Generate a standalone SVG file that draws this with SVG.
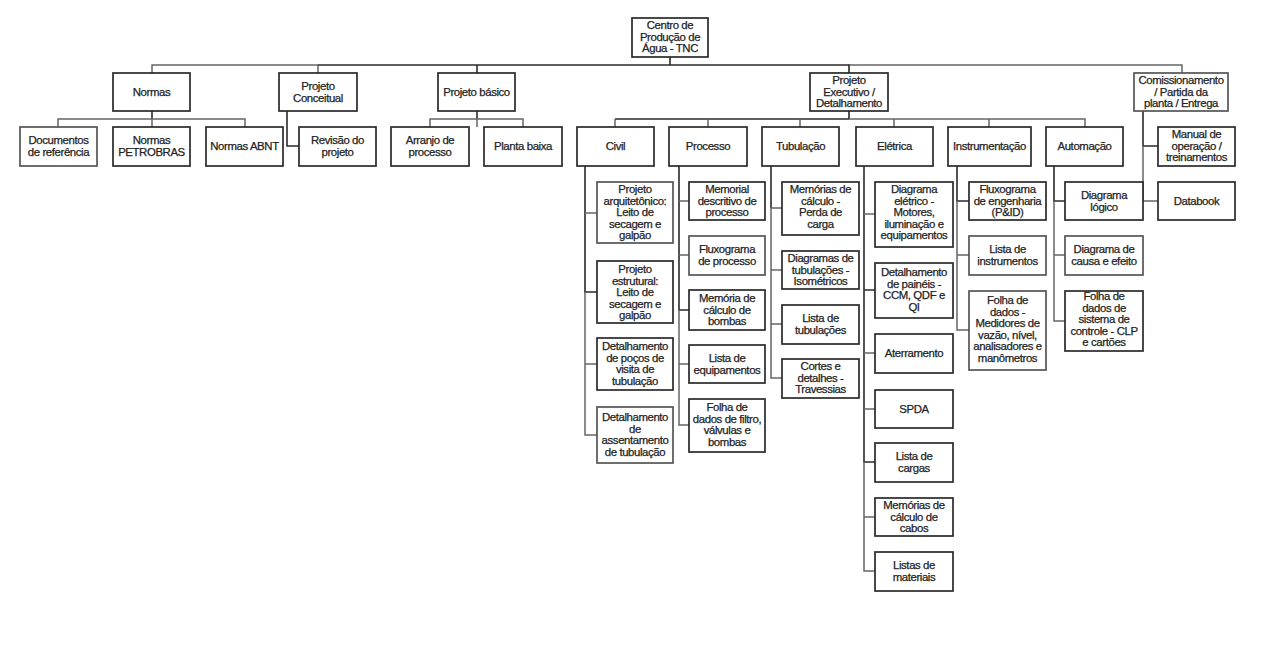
<svg xmlns="http://www.w3.org/2000/svg" width="1270" height="663" viewBox="0 0 1270 663">
<style>
.b{fill:#fff;stroke:#2a2a2a;stroke-width:1.7}
.g{fill:#fff;stroke:#555;stroke-width:1.7}
text{font-family:"Liberation Sans",Arial,sans-serif;font-size:11.4px;fill:#222;stroke:#222;stroke-width:0.25;text-anchor:middle;letter-spacing:-0.4px}
.c{fill:none;stroke:#666;stroke-width:1.5}
.d{fill:none;stroke:#2a2a2a;stroke-width:1.6}
</style>
<rect width="1270" height="663" fill="#fff"/>
<g id="connectors">
<path class="c" d="M152,73V65H318M849,65H1182V73M318,65V73"/>
<path class="d" d="M318,65H849V73M670,57V65M477,65V73"/>
<path class="d" d="M152,111V119"/>
<path class="c" d="M58,127V119H245V127M152,119V127"/>
<path class="d" d="M287,111V146H299"/>
<path class="d" d="M477,111V119"/>
<path class="c" d="M430,127V119H523V127M477,119V127"/>
<path class="d" d="M849,111V119M615,119H849"/>
<path class="c" d="M849,119H1085V127M615,119V127M708,119V127M800,119V127M894,119V127M989,119V127"/>
<path class="d" d="M1143,111V146H1158"/>
<path class="c" d="M1143,146V201H1158"/>
<path class="d" d="M585,166V292H597"/>
<path class="c" d="M585,292V435H597M585,213H597M585,364H597"/>
<path class="d" d="M679,166V310H689"/>
<path class="c" d="M679,310V425H689M679,201H689M679,255H689M679,364H689"/>
<path class="d" d="M771,166V208"/>
<path class="c" d="M771,208V378H782M771,208H782M771,270H782M771,324H782"/>
<path class="d" d="M864,166V462H875M864,290H875"/>
<path class="c" d="M864,462V571H875M864,214H875M864,353H875M864,409H875M864,517H875"/>
<path class="d" d="M957,166V201H969"/>
<path class="c" d="M957,201V330H969M957,255H969"/>
<path class="d" d="M1054,166V201H1065"/>
<path class="c" d="M1054,201V321H1065M1054,255H1065"/>
</g>
<g id="root"><rect class="b" x="632" y="18" width="76" height="39"/><text x="670" y="29"><tspan x="670">Centro de</tspan><tspan x="670" dy="11.5">Produção de</tspan><tspan x="670" dy="11.5">Água - TNC</tspan></text></g>
<g id="normas"><rect class="b" x="113" y="73" width="77" height="38"/><text x="151.5" y="96">Normas</text></g>
<g id="conceitual"><rect class="b" x="279" y="73" width="78" height="38"/><text x="318" y="90"><tspan x="318">Projeto</tspan><tspan x="318" dy="11.5">Conceitual</tspan></text></g>
<g id="basico"><rect class="b" x="438" y="73" width="77" height="38"/><text x="476.5" y="96">Projeto básico</text></g>
<g id="executivo"><rect class="b" x="810" y="73" width="78" height="38"/><text x="849" y="84"><tspan x="849">Projeto</tspan><tspan x="849" dy="11.5">Executivo /</tspan><tspan x="849" dy="11.5">Detalhamento</tspan></text></g>
<g id="comissionamento"><rect class="g" x="1134" y="73" width="94" height="38"/><text x="1181" y="84"><tspan x="1181">Comissionamento</tspan><tspan x="1181" dy="11.5">/ Partida da</tspan><tspan x="1181" dy="11.5">planta / Entrega</tspan></text></g>
<g id="docs"><rect class="g" x="20" y="127" width="77" height="39"/><text x="58.5" y="144"><tspan x="58.5">Documentos</tspan><tspan x="58.5" dy="11.5">de referência</tspan></text></g>
<g id="petrobras"><rect class="b" x="113" y="127" width="77" height="39"/><text x="151.5" y="144"><tspan x="151.5">Normas</tspan><tspan x="151.5" dy="11.5">PETROBRAS</tspan></text></g>
<g id="abnt"><rect class="b" x="206" y="127" width="77" height="39"/><text x="244.5" y="150">Normas ABNT</text></g>
<g id="revisao"><rect class="b" x="299" y="127" width="77" height="39"/><text x="337.5" y="144"><tspan x="337.5">Revisão do</tspan><tspan x="337.5" dy="11.5">projeto</tspan></text></g>
<g id="arranjo"><rect class="b" x="391" y="127" width="78" height="39"/><text x="430" y="144"><tspan x="430">Arranjo de</tspan><tspan x="430" dy="11.5">processo</tspan></text></g>
<g id="planta"><rect class="b" x="484" y="127" width="78" height="39"/><text x="523" y="150">Planta baixa</text></g>
<g id="civil"><rect class="b" x="577" y="127" width="77" height="39"/><text x="615.5" y="150">Civil</text></g>
<g id="processo"><rect class="b" x="669" y="127" width="78" height="39"/><text x="708" y="150">Processo</text></g>
<g id="tubulacao"><rect class="b" x="762" y="127" width="77" height="39"/><text x="800.5" y="150">Tubulação</text></g>
<g id="eletrica"><rect class="b" x="856" y="127" width="77" height="39"/><text x="894.5" y="150">Elétrica</text></g>
<g id="instrumentacao"><rect class="b" x="948" y="127" width="83" height="39"/><text x="989.5" y="150">Instrumentação</text></g>
<g id="automacao"><rect class="b" x="1046" y="127" width="77" height="39"/><text x="1084.5" y="150">Automação</text></g>
<g id="manual"><rect class="b" x="1158" y="127" width="77" height="39"/><text x="1196.5" y="138"><tspan x="1196.5">Manual de</tspan><tspan x="1196.5" dy="11.5">operação /</tspan><tspan x="1196.5" dy="11.5">treinamentos</tspan></text></g>
<g id="databook"><rect class="b" x="1158" y="182" width="77" height="38"/><text x="1196.5" y="205">Databook</text></g>
<g id="civil1"><rect class="g" x="597" y="182" width="76" height="61"/><text x="635" y="193"><tspan x="635">Projeto</tspan><tspan x="635" dy="11.5">arquitetônico:</tspan><tspan x="635" dy="11.5">Leito de</tspan><tspan x="635" dy="11.5">secagem e</tspan><tspan x="635" dy="11.5">galpão</tspan></text></g>
<g id="civil2"><rect class="b" x="597" y="261" width="76" height="62"/><text x="635" y="273"><tspan x="635">Projeto</tspan><tspan x="635" dy="11.5">estrutural:</tspan><tspan x="635" dy="11.5">Leito de</tspan><tspan x="635" dy="11.5">secagem e</tspan><tspan x="635" dy="11.5">galpão</tspan></text></g>
<g id="civil3"><rect class="b" x="597" y="338" width="76" height="52"/><text x="635" y="350"><tspan x="635">Detalhamento</tspan><tspan x="635" dy="11.5">de poços de</tspan><tspan x="635" dy="11.5">visita de</tspan><tspan x="635" dy="11.5">tubulação</tspan></text></g>
<g id="civil4"><rect class="g" x="597" y="407" width="76" height="56"/><text x="635" y="421"><tspan x="635">Detalhamento</tspan><tspan x="635" dy="11.5">de</tspan><tspan x="635" dy="11.5">assentamento</tspan><tspan x="635" dy="11.5">de tubulação</tspan></text></g>
<g id="proc1"><rect class="b" x="689" y="182" width="76" height="38"/><text x="727" y="193"><tspan x="727">Memorial</tspan><tspan x="727" dy="11.5">descritivo de</tspan><tspan x="727" dy="11.5">processo</tspan></text></g>
<g id="proc2"><rect class="g" x="689" y="236" width="76" height="39"/><text x="727" y="253"><tspan x="727">Fluxograma</tspan><tspan x="727" dy="11.5">de processo</tspan></text></g>
<g id="proc3"><rect class="b" x="689" y="290" width="76" height="40"/><text x="727" y="302"><tspan x="727">Memória de</tspan><tspan x="727" dy="11.5">cálculo de</tspan><tspan x="727" dy="11.5">bombas</tspan></text></g>
<g id="proc4"><rect class="b" x="689" y="345" width="76" height="38"/><text x="727" y="362"><tspan x="727">Lista de</tspan><tspan x="727" dy="11.5">equipamentos</tspan></text></g>
<g id="proc5"><rect class="b" x="689" y="399" width="76" height="53"/><text x="727" y="411"><tspan x="727">Folha de</tspan><tspan x="727" dy="11.5">dados de filtro,</tspan><tspan x="727" dy="11.5">válvulas e</tspan><tspan x="727" dy="11.5">bombas</tspan></text></g>
<g id="tub1"><rect class="b" x="782" y="182" width="77" height="53"/><text x="820.5" y="193"><tspan x="820.5">Memórias de</tspan><tspan x="820.5" dy="11.5">cálculo -</tspan><tspan x="820.5" dy="11.5">Perda de</tspan><tspan x="820.5" dy="11.5">carga</tspan></text></g>
<g id="tub2"><rect class="b" x="782" y="251" width="77" height="38"/><text x="820.5" y="262"><tspan x="820.5">Diagramas de</tspan><tspan x="820.5" dy="11.5">tubulações -</tspan><tspan x="820.5" dy="11.5">Isométricos</tspan></text></g>
<g id="tub3"><rect class="b" x="782" y="305" width="77" height="39"/><text x="820.5" y="322"><tspan x="820.5">Lista de</tspan><tspan x="820.5" dy="11.5">tubulações</tspan></text></g>
<g id="tub4"><rect class="b" x="782" y="359" width="77" height="39"/><text x="820.5" y="370"><tspan x="820.5">Cortes e</tspan><tspan x="820.5" dy="11.5">detalhes -</tspan><tspan x="820.5" dy="11.5">Travessias</tspan></text></g>
<g id="ele1"><rect class="b" x="875" y="182" width="78" height="65"/><text x="914" y="193"><tspan x="914">Diagrama</tspan><tspan x="914" dy="11.5">elétrico -</tspan><tspan x="914" dy="11.5">Motores,</tspan><tspan x="914" dy="11.5">iluminação e</tspan><tspan x="914" dy="11.5">equipamentos</tspan></text></g>
<g id="ele2"><rect class="b" x="875" y="263" width="78" height="55"/><text x="914" y="276"><tspan x="914">Detalhamento</tspan><tspan x="914" dy="11.5">de painéis -</tspan><tspan x="914" dy="11.5">CCM, QDF e</tspan><tspan x="914" dy="11.5">QI</tspan></text></g>
<g id="ele3"><rect class="b" x="875" y="334" width="78" height="39"/><text x="914" y="357">Aterramento</text></g>
<g id="ele4"><rect class="b" x="875" y="390" width="78" height="38"/><text x="914" y="413">SPDA</text></g>
<g id="ele5"><rect class="b" x="875" y="443" width="78" height="39"/><text x="914" y="460"><tspan x="914">Lista de</tspan><tspan x="914" dy="11.5">cargas</tspan></text></g>
<g id="ele6"><rect class="b" x="875" y="498" width="78" height="38"/><text x="914" y="509"><tspan x="914">Memórias de</tspan><tspan x="914" dy="11.5">cálculo de</tspan><tspan x="914" dy="11.5">cabos</tspan></text></g>
<g id="ele7"><rect class="b" x="875" y="552" width="78" height="39"/><text x="914" y="569"><tspan x="914">Listas de</tspan><tspan x="914" dy="11.5">materiais</tspan></text></g>
<g id="ins1"><rect class="b" x="969" y="182" width="77" height="38"/><text x="1007.5" y="193"><tspan x="1007.5">Fluxograma</tspan><tspan x="1007.5" dy="11.5">de engenharia</tspan><tspan x="1007.5" dy="11.5">(P&amp;ID)</tspan></text></g>
<g id="ins2"><rect class="g" x="969" y="236" width="77" height="39"/><text x="1007.5" y="253"><tspan x="1007.5">Lista de</tspan><tspan x="1007.5" dy="11.5">instrumentos</tspan></text></g>
<g id="ins3"><rect class="g" x="969" y="291" width="77" height="79"/><text x="1007.5" y="304"><tspan x="1007.5">Folha de</tspan><tspan x="1007.5" dy="11.5">dados -</tspan><tspan x="1007.5" dy="11.5">Medidores de</tspan><tspan x="1007.5" dy="11.5">vazão, nível,</tspan><tspan x="1007.5" dy="11.5">analisadores e</tspan><tspan x="1007.5" dy="11.5">manômetros</tspan></text></g>
<g id="aut1"><rect class="b" x="1065" y="182" width="78" height="38"/><text x="1104" y="199"><tspan x="1104">Diagrama</tspan><tspan x="1104" dy="11.5">lógico</tspan></text></g>
<g id="aut2"><rect class="g" x="1065" y="236" width="78" height="39"/><text x="1104" y="253"><tspan x="1104">Diagrama de</tspan><tspan x="1104" dy="11.5">causa e efeito</tspan></text></g>
<g id="aut3"><rect class="b" x="1065" y="291" width="78" height="60"/><text x="1104" y="300"><tspan x="1104">Folha de</tspan><tspan x="1104" dy="11.5">dados de</tspan><tspan x="1104" dy="11.5">sistema de</tspan><tspan x="1104" dy="11.5">controle - CLP</tspan><tspan x="1104" dy="11.5">e cartões</tspan></text></g>
</svg>
